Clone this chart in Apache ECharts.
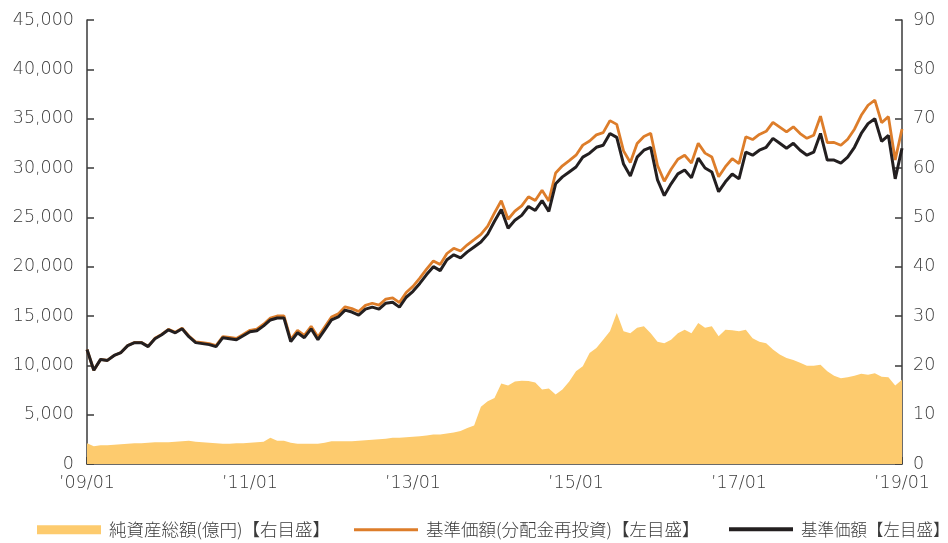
<!DOCTYPE html>
<html><head><meta charset="utf-8">
<script src="https://cdn.jsdelivr.net/npm/echarts@6/dist/echarts.min.js"></script>
<style>html,body{margin:0;padding:0;background:#fff}#c{width:948px;height:543px}</style>
</head><body><div id="c"></div>
<script>
// Monthly categories 2009/01 .. 2019/01
const categories = [];
for (let y = 2009; y <= 2019; y++) {
  for (let m = 1; m <= 12; m++) {
    if (y === 2019 && m > 1) break;
    categories.push(y + '/' + String(m).padStart(2, '0'));
  }
}
const xTickLabels = ['2009/01', '2011/01', '2013/01', '2015/01', '2017/01', '2019/01'];
const leftTicks = [0, 5000, 10000, 15000, 20000, 25000, 30000, 35000, 40000, 45000];
const rightTicks = [0, 10, 20, 30, 40, 50, 60, 70, 80, 90];

const seriesNames = ['純資産総額(億円)【右目盛】', '基準価額(分配金再投資)【左目盛】', '基準価額【左目盛】'];

// 純資産総額 (億円) - right axis
const netAssets = [
  4.2, 3.6, 3.8, 3.8, 3.9, 4.0, 4.1, 4.2, 4.2, 4.3, 4.4, 4.4,
  4.4, 4.5, 4.6, 4.7, 4.5, 4.4, 4.3, 4.2, 4.1, 4.1, 4.2, 4.2,
  4.3, 4.4, 4.5, 5.3, 4.7, 4.7, 4.3, 4.1, 4.1, 4.1, 4.1, 4.3,
  4.6, 4.6, 4.6, 4.6, 4.7, 4.8, 4.9, 5.0, 5.1, 5.3, 5.3, 5.4,
  5.5, 5.6, 5.8, 6.0, 6.0, 6.2, 6.4, 6.7, 7.3, 7.8, 11.6, 12.7,
  13.4, 16.3, 15.9, 16.7, 16.9, 16.8, 16.5, 15.1, 15.3, 14.1, 15.1, 16.7,
  18.8, 19.8, 22.5, 23.5, 25.2, 26.9, 30.6, 26.9, 26.5, 27.6, 27.9, 26.5,
  24.8, 24.5, 25.2, 26.5, 27.2, 26.5, 28.6, 27.6, 27.9, 25.9, 27.2, 27.1,
  26.9, 27.2, 25.5, 24.8, 24.5, 23.2, 22.2, 21.5, 21.1, 20.5, 19.9, 19.9,
  20.1, 18.8, 17.9, 17.4, 17.6, 17.9, 18.3, 18.1, 18.4, 17.7, 17.6, 15.9,
  17.1
];

// 基準価額(分配金再投資) - left axis
const navReinvested = [
  11600, 9500, 10600, 10500, 11000, 11300, 12000, 12320, 12330, 11930, 12740, 13140,
  13650, 13360, 13770, 12980, 12380, 12290, 12200, 12010, 12910, 12820, 12730, 13140,
  13550, 13660, 14170, 14785, 15000, 15010, 12620, 13535, 13045, 13960, 12870, 13885,
  14900, 15215, 15930, 15745, 15460, 16075, 16290, 16105, 16720, 16840, 16355, 17375,
  18000, 18830, 19755, 20580, 20210, 21335, 21860, 21590, 22215, 22740, 23270, 24100,
  25450, 26680, 24805, 25630, 26160, 27085, 26710, 27740, 26665, 29490, 30220, 30750,
  31300, 32320, 32740, 33360, 33580, 34800, 34420, 31740, 30560, 32480, 33200, 33520,
  30250, 28660, 29870, 30880, 31290, 30500, 32505, 31510, 31115, 29120, 30130, 30940,
  30450, 33170, 32885, 33400, 33715, 34630, 34145, 33660, 34175, 33490, 33005, 33320,
  35250, 32570, 32585, 32300, 32915, 33930, 35345, 36360, 36875, 34590, 35205, 30820,
  33950
];

// 基準価額 - left axis
const nav = [
  11600, 9500, 10600, 10500, 11000, 11300, 12000, 12300, 12300, 11900, 12700, 13100,
  13600, 13300, 13700, 12900, 12300, 12200, 12100, 11900, 12800, 12700, 12600, 13000,
  13400, 13500, 14000, 14600, 14800, 14800, 12400, 13300, 12800, 13700, 12600, 13600,
  14600, 14900, 15600, 15400, 15100, 15700, 15900, 15700, 16300, 16400, 15900, 16900,
  17500, 18300, 19200, 20000, 19600, 20700, 21200, 20900, 21500, 22000, 22500, 23300,
  24600, 25800, 23900, 24700, 25200, 26100, 25700, 26700, 25600, 28400, 29100, 29600,
  30100, 31100, 31500, 32100, 32300, 33500, 33100, 30400, 29200, 31100, 31800, 32100,
  28800, 27200, 28400, 29400, 29800, 29000, 31000, 30000, 29600, 27600, 28600, 29400,
  28900, 31600, 31300, 31800, 32100, 33000, 32500, 32000, 32500, 31800, 31300, 31600,
  33500, 30800, 30800, 30500, 31100, 32100, 33500, 34500, 35000, 32700, 33300, 28900,
  32000
];

const FONT = "'Noto Sans CJK JP', 'Noto Sans', sans-serif";
const NUMFONT = "'DejaVu Sans', 'Noto Sans', sans-serif";
const TXT = '#3a3a3a';
const AX = '#3a3a3a';

function legendAt(left, idx, icon, fontSize) {
  return {
    left: left, top: 521, padding: 0,
    itemWidth: 64, itemHeight: 9, itemGap: 0,
    textStyle: { fontSize: fontSize, color: TXT, fontFamily: FONT, fontWeight: 300, padding: [0, 0, 0, 3] },
    data: [{ name: seriesNames[idx], icon: icon }]
  };
}

const chart = echarts.init(document.getElementById('c'), null, { renderer: 'canvas' });
chart.setOption({
  animation: false,
  backgroundColor: '#ffffff',
  textStyle: { fontFamily: FONT },
  grid: { left: 87, right: 46, top: 20, bottom: 79, containLabel: false },
  legend: [
    legendAt(37, 0, 'rect', 17.5),
    legendAt(354, 1, 'path://M0,0H64V3H0Z', 17.5),
    legendAt(729, 2, 'path://M0,0H64V4H0Z', 16.5)
  ],
  xAxis: {
    type: 'category',
    data: categories,
    boundaryGap: false,
    axisLine: { show: true, lineStyle: { color: AX, width: 1.5 } },
    axisTick: {
      show: true, inside: true, length: 7, lineStyle: { color: AX, width: 1.5 },
      interval: (i, v) => xTickLabels.includes(v)
    },
    axisLabel: {
      show: true, margin: 10, fontSize: 17.5, color: TXT, fontFamily: NUMFONT, fontWeight: 200,
      interval: (i, v) => xTickLabels.includes(v),
      formatter: v => '’' + v.slice(2)
    },
    splitLine: { show: false }
  },
  yAxis: [
    {
      type: 'value', min: leftTicks[0], max: leftTicks[leftTicks.length - 1], interval: 5000,
      axisLine: { show: true, lineStyle: { color: AX, width: 1.5 } },
      axisTick: { show: true, inside: true, length: 7, lineStyle: { color: AX, width: 1.5 } },
      axisLabel: {
        margin: 13, fontSize: 17.5, color: TXT, fontFamily: NUMFONT, fontWeight: 200,
        formatter: v => v.toLocaleString('en-US')
      },
      splitLine: { show: false }
    },
    {
      type: 'value', min: rightTicks[0], max: rightTicks[rightTicks.length - 1], interval: 10,
      position: 'right',
      axisLine: { show: true, lineStyle: { color: AX, width: 1.5 } },
      axisTick: { show: true, inside: true, length: 7, lineStyle: { color: AX, width: 1.5 } },
      axisLabel: { margin: 11, fontSize: 17.5, color: TXT, fontFamily: NUMFONT, fontWeight: 200 },
      splitLine: { show: false }
    }
  ],
  series: [
    {
      name: seriesNames[0], type: 'line', yAxisIndex: 1, data: netAssets,
      symbol: 'none', showSymbol: false,
      lineStyle: { width: 0, color: '#FDCB6E' },
      itemStyle: { color: '#FDCB6E' },
      areaStyle: { color: '#FDCB6E', opacity: 1 },
      z: 1
    },
    {
      name: seriesNames[1], type: 'line', yAxisIndex: 0, data: navReinvested,
      symbol: 'none', showSymbol: false,
      lineStyle: { width: 2.8, color: '#DD7D2A' },
      itemStyle: { color: '#DD7D2A' },
      z: 2
    },
    {
      name: seriesNames[2], type: 'line', yAxisIndex: 0, data: nav,
      symbol: 'none', showSymbol: false,
      lineStyle: { width: 3, color: '#231F20' },
      itemStyle: { color: '#231F20' },
      z: 3
    }
  ]
});
</script>
</body></html>
